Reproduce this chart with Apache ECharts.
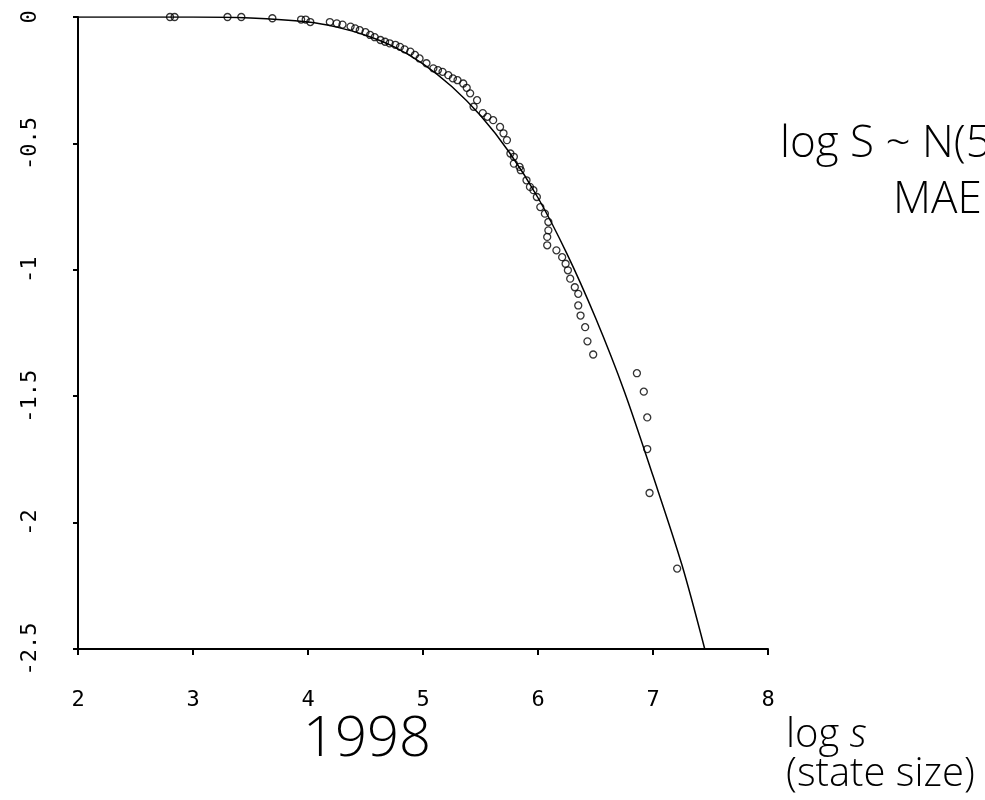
<!DOCTYPE html>
<html>
<head>
<meta charset="utf-8">
<script src="https://cdn.jsdelivr.net/npm/echarts@6/dist/echarts.min.js"></script>
<style>
  html, body { margin: 0; padding: 0; background: #fff; }
  #chart { width: 985px; height: 800px; }
</style>
</head>
<body>
<div id="chart"></div>
<script>
// fitted curve
var curveX = [2, 3, 3.5, 4, 4.25, 4.5, 4.75, 5, 5.25, 5.5, 5.75, 6, 6.25, 6.5, 6.75, 7, 7.25, 7.45];
var curveY = [0, 0, -0.004, -0.02, -0.04, -0.072, -0.118, -0.185, -0.275, -0.39, -0.535, -0.715, -0.935, -1.19, -1.48, -1.815, -2.165, -2.5];

// observed points
var pointsX = [2.80, 2.84, 3.30, 3.42, 3.69, 3.94, 3.98, 4.02, 4.19, 4.25, 4.30,
    4.37, 4.41, 4.45, 4.50, 4.54, 4.58, 4.63, 4.67, 4.71, 4.76, 4.80, 4.84, 4.89, 4.93, 4.97,
    5.03, 5.09, 5.13, 5.17, 5.22, 5.26, 5.30, 5.35, 5.38, 5.41, 5.47, 5.44, 5.52, 5.56, 5.61,
    5.67, 5.70, 5.73, 5.76, 5.79, 5.79, 5.84, 5.85, 5.90, 5.93, 5.96, 5.99, 6.02, 6.06, 6.09,
    6.09, 6.08, 6.08, 6.16, 6.21, 6.24, 6.26, 6.28, 6.32, 6.35, 6.35, 6.37, 6.41, 6.43, 6.48,
    6.86, 6.92, 6.95, 6.95, 6.97, 7.21];
var pointsY = [0, 0, 0, 0, -0.005, -0.01, -0.01, -0.02, -0.02, -0.025, -0.03,
    -0.038, -0.045, -0.052, -0.06, -0.071, -0.08, -0.091, -0.098, -0.104, -0.11, -0.118, -0.128, -0.137, -0.15, -0.164,
    -0.183, -0.203, -0.21, -0.217, -0.23, -0.243, -0.25, -0.263, -0.28, -0.302, -0.329, -0.355, -0.38, -0.395, -0.408,
    -0.435, -0.46, -0.487, -0.54, -0.553, -0.58, -0.593, -0.606, -0.646, -0.672, -0.685, -0.712, -0.752, -0.778, -0.811,
    -0.844, -0.87, -0.903, -0.923, -0.95, -0.976, -1.002, -1.035, -1.069, -1.095, -1.141, -1.181, -1.227, -1.283, -1.335,
    -1.409, -1.482, -1.584, -1.709, -1.883, -2.182];

var tickFont = '"DejaVu Sans Mono", monospace';
var textFont = '"Open Sans", "Noto Sans", sans-serif';

var curveData = curveX.map(function (x, i) { return [x, curveY[i]]; });
var pointData = pointsX.map(function (x, i) { return [x, pointsY[i]]; });

var chart = echarts.init(document.getElementById('chart'));
var option = {
    backgroundColor: '#fff',
    animation: false,
    grid: {
        left: 78,
        right: 217,
        top: 17,
        bottom: 151
    },
    xAxis: {
        type: 'value',
        min: 2,
        max: 8,
        interval: 1,
        axisLine: { show: true, onZero: false, lineStyle: { color: '#000', width: 2 } },
        axisTick: { show: true, length: 6, lineStyle: { color: '#000', width: 2 } },
        splitLine: { show: false },
        axisLabel: {
            margin: 40,
            color: '#000',
            fontFamily: tickFont,
            fontSize: 22,
            showMinLabel: true,
            showMaxLabel: true
        }
    },
    yAxis: {
        type: 'value',
        min: -2.5,
        max: 0,
        interval: 0.5,
        axisLine: { show: true, onZero: false, lineStyle: { color: '#000', width: 2 } },
        axisTick: { show: true, length: 5, lineStyle: { color: '#000', width: 2 } },
        splitLine: { show: false },
        axisLabel: {
            rotate: 90,
            margin: 37,
            color: '#000',
            fontFamily: tickFont,
            fontSize: 22,
            showMinLabel: true,
            showMaxLabel: true
        }
    },
    series: [
        {
            type: 'line',
            data: curveData,
            smooth: 0.3,
            symbol: 'none',
            lineStyle: { color: '#000', width: 1.5 }
        },
        {
            type: 'scatter',
            data: pointData,
            symbol: 'circle',
            symbolSize: 7,
            itemStyle: { color: 'rgba(255,255,255,0)', borderColor: '#000', borderWidth: 1.3 }
        }
    ],
    graphic: [
        {
            type: 'text',
            left: 780,
            top: 122,
            style: { text: 'log S ~ N(5', fill: '#000', fontFamily: textFont, fontWeight: 300, fontSize: 44 }
        },
        {
            type: 'text',
            left: 893,
            top: 178,
            style: { text: 'MAE', fill: '#000', fontFamily: textFont, fontWeight: 300, fontSize: 44 }
        },
        {
            type: 'text',
            left: 303,
            top: 712,
            style: { text: '1998', fill: '#000', fontFamily: textFont, fontWeight: 300, fontSize: 56 }
        },
        {
            type: 'text',
            left: 786,
            top: 716,
            style: {
                text: '{a|log }{b|s}',
                rich: {
                    a: { fill: '#000', fontFamily: textFont, fontWeight: 300, fontSize: 40 },
                    b: { fill: '#000', fontFamily: textFont, fontWeight: 300, fontStyle: 'italic', fontSize: 40 }
                }
            }
        },
        {
            type: 'text',
            left: 786,
            top: 755,
            style: { text: '(state size)', fill: '#000', fontFamily: textFont, fontWeight: 300, fontSize: 40 }
        }
    ]
};
chart.setOption(option);
</script>
</body>
</html>
